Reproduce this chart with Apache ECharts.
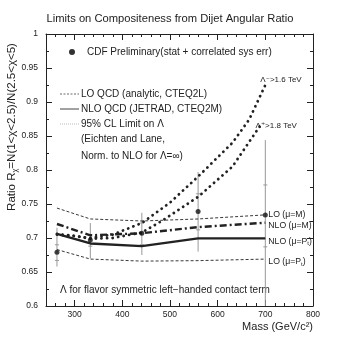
<!DOCTYPE html>
<html>
<head>
<meta charset="utf-8">
<script src="https://cdn.jsdelivr.net/npm/echarts@6/dist/echarts.min.js"></script>
<style>
  html, body { margin: 0; padding: 0; background: #fff; }
  #main { width: 340px; height: 340px; }
</style>
</head>
<body>
<div id="main"></div>
<script>
// mass points (GeV/c^2) where the data and QCD predictions sit
const masses = [263, 333, 441, 559, 700];

// CDF preliminary ratio with errors
const cdfRatio = [0.679, 0.697, 0.707, 0.739, 0.734];
const totLow   = [0.658, 0.670, 0.675, 0.680, 0.600];
const totHigh  = [0.715, 0.722, 0.737, 0.797, 0.844];
const statLow  = [0.667, 0.688, 0.690, 0.712, 0.687];
const statHigh = [0.690, 0.705, 0.722, 0.765, 0.778];

// QCD predictions
const loM   = [0.744, 0.728, 0.725, 0.728, 0.734];
const nloM  = [0.7206, 0.704, 0.707, 0.716, 0.7225];
const nloPt = [0.706, 0.692, 0.688, 0.6995, 0.6995];
const loPt  = [0.683, 0.669, 0.666, 0.6667, 0.669];

// 95% CL contact term curves
const lamMinusMass = [263, 300, 333, 380, 441, 500, 560, 631, 666, 700];
const lamMinus     = [0.705, 0.703, 0.700, 0.705, 0.722, 0.752, 0.791, 0.840, 0.874, 0.925];
const lamPlusMass  = [263, 300, 333, 380, 441, 485, 560, 631, 690];
const lamPlus      = [0.706, 0.703, 0.699, 0.700, 0.708, 0.726, 0.761, 0.805, 0.866];

// ticks
const xMajor = [300, 400, 500, 600, 700, 800];
const xMinor = [260, 280, 320, 340, 360, 380, 420, 440, 460, 480, 520, 540, 560, 580, 620, 640, 660, 680, 720, 740, 760, 780];

const FONT = 'Liberation Sans, DejaVu Sans, sans-serif';
const INK = '#222';

function pairs(xs, ys) { return xs.map((x, i) => [x, ys[i]]); }

function xAx(pos, values, len, labels) {
    return {
        type: 'value', position: pos, min: 240, max: 800,
        axisLine: { show: labels, onZero: false, lineStyle: { color: INK, width: 1 } },
        axisTick: { show: true, inside: true, length: len, customValues: values, lineStyle: { color: INK } },
        axisLabel: { show: labels && pos === 'bottom', customValues: values, color: INK, fontFamily: FONT, fontSize: 8.5, margin: 4 },
        splitLine: { show: false }
    };
}
function yAx(pos) {
    return {
        type: 'value', position: pos, min: 0.6, max: 1, interval: 0.05,
        axisLine: { show: true, onZero: false, lineStyle: { color: INK, width: 1 } },
        axisTick: { show: true, inside: true, length: 6, lineStyle: { color: INK } },
        minorTick: { show: true, splitNumber: 2, length: 3, lineStyle: { color: INK } },
        axisLabel: {
            show: pos === 'left', color: INK, fontFamily: FONT, fontSize: 8.5, margin: 8,
            formatter: v => (Math.abs(v - 1) < 1e-9 ? '1' : String(+v.toFixed(2)))
        },
        splitLine: { show: false }
    };
}

function curve(name, xs, ys, lineStyle, label) {
    const s = {
        name: name, type: 'line', data: pairs(xs, ys), symbol: 'none', silent: true,
        lineStyle: Object.assign({ color: INK }, lineStyle), z: 3
    };
    if (label) {
        s.endLabel = Object.assign({
            show: true, color: INK, fontFamily: FONT, fontSize: 8.7, distance: 3,
            rich: { sub: { fontSize: 6, verticalAlign: 'bottom', padding: [4, 0, 0, 0], color: INK, fontFamily: FONT } }
        }, label);
    }
    return s;
}

const errData = masses.map((m, i) => [m, totLow[i], totHigh[i], statLow[i], statHigh[i]]);

const LEG = '10px ' + FONT;

const option = {
    animation: false,
    backgroundColor: '#fff',
    title: {
        text: 'Limits on Compositeness from Dijet Angular Ratio',
        left: 165, top: 8, textAlign: 'center',
        textStyle: { fontFamily: FONT, fontSize: 11.2, fontWeight: 'normal', color: INK }
    },
    grid: { left: 46, right: 27, top: 34, bottom: 34 },
    xAxis: [
        xAx('bottom', xMajor, 6, true),
        xAx('bottom', xMinor, 3, false),
        xAx('top', xMajor, 6, true),
        xAx('top', xMinor, 3, false)
    ],
    yAxis: [yAx('left'), yAx('right')],
    series: [
        curve('LO M', masses, loM, { type: [3, 2], width: 0.9 },
            { formatter: 'LO (μ=M)', offset: [0, 0] }),
        curve('NLO M', masses, nloM, { type: [7, 3, 2, 3], width: 2.4 },
            { formatter: 'NLO (μ=M)', offset: [0, 3] }),
        curve('NLO Pt', masses, nloPt, { type: 'solid', width: 2.4 },
            { formatter: 'NLO (μ=P{sub|t})', offset: [0, 3] }),
        curve('LO Pt', masses, loPt, { type: [3, 2], width: 0.9 },
            { formatter: 'LO (μ=P{sub|t})', offset: [0, 3] }),
        curve('Lambda-', lamMinusMass, lamMinus, { type: [0.1, 5.5], width: 2.8, cap: 'round' },
            { formatter: 'Λ⁻>1.6 TeV', offset: [-8, -5], fontSize: 8 }),
        curve('Lambda+', lamPlusMass, lamPlus, { type: [0.1, 5.5], width: 2.8, cap: 'round' },
            { formatter: 'Λ⁺>1.8 TeV', offset: [-8, 1], fontSize: 8 }),
        {
            name: 'err', type: 'custom', silent: true, z: 2,
            data: errData,
            renderItem: function (params, api) {
                const x = api.value(0);
                const lo = api.coord([x, api.value(1)]);
                const hi = api.coord([x, api.value(2)]);
                const sl = api.coord([x, api.value(3)]);
                const sh = api.coord([x, api.value(4)]);
                const st = { stroke: '#999', lineWidth: 1 };
                return {
                    type: 'group',
                    children: [
                        { type: 'line', shape: { x1: lo[0], y1: lo[1], x2: hi[0], y2: hi[1] }, style: st },
                        { type: 'line', shape: { x1: sl[0] - 2, y1: sl[1], x2: sl[0] + 2, y2: sl[1] }, style: st },
                        { type: 'line', shape: { x1: sh[0] - 2, y1: sh[1], x2: sh[0] + 2, y2: sh[1] }, style: st }
                    ]
                };
            }
        },
        {
            name: 'CDF', type: 'scatter', data: pairs(masses, cdfRatio),
            symbol: 'circle', symbolSize: 5, itemStyle: { color: '#111' }, z: 5, silent: true
        }
    ],
    graphic: [
        { type: 'circle', shape: { cx: 72, cy: 52, r: 3 }, style: { fill: '#333' } },
        { type: 'text', x: 87, y: 52, style: { text: 'CDF Preliminary(stat + correlated sys err)', font: LEG, fill: INK, verticalAlign: 'middle' } },
        { type: 'line', shape: { x1: 60, y1: 94, x2: 79, y2: 94 }, style: { stroke: '#444', lineWidth: 0.8, lineDash: [2, 1.5] } },
        { type: 'text', x: 81, y: 94, style: { text: 'LO QCD (analytic, CTEQ2L)', font: LEG, fill: INK, verticalAlign: 'middle' } },
        { type: 'line', shape: { x1: 60, y1: 109, x2: 79, y2: 109 }, style: { stroke: '#444', lineWidth: 1 } },
        { type: 'text', x: 81, y: 109, style: { text: 'NLO QCD (JETRAD, CTEQ2M)', font: LEG, fill: INK, verticalAlign: 'middle' } },
        { type: 'line', shape: { x1: 60, y1: 124, x2: 79, y2: 124 }, style: { stroke: '#aaa', lineWidth: 0.8, lineDash: [1, 1] } },
        { type: 'text', x: 81, y: 124, style: { text: '95% CL Limit on Λ', font: LEG, fill: INK, verticalAlign: 'middle' } },
        { type: 'text', x: 81, y: 139, style: { text: '(Eichten and Lane,', font: LEG, fill: INK, verticalAlign: 'middle' } },
        { type: 'text', x: 81, y: 156, style: { text: 'Norm. to NLO for Λ=∞)', font: LEG, fill: INK, verticalAlign: 'middle' } },
        { type: 'text', x: 60, y: 290, style: { text: 'Λ for flavor symmetric left−handed contact term', font: LEG, fill: INK, verticalAlign: 'middle' } },
        { type: 'text', x: 313, y: 327, style: { text: 'Mass (GeV/c²)', font: '11px ' + FONT, fill: INK, align: 'right', verticalAlign: 'middle' } },
        {
            type: 'text', x: 12, y: 127, rotation: Math.PI / 2,
            style: {
                text: 'Ratio R{sub|χ}=N(1<χ<2.5)/N(2.5<χ<5)', font: '11.5px ' + FONT, fill: INK,
                align: 'center', verticalAlign: 'middle',
                rich: { sub: { fontSize: 7.5, fontFamily: FONT, fill: INK, padding: [6, 0, 0, 0] } }
            }
        }
    ]
};

const chart = echarts.init(document.getElementById('main'), null, { renderer: 'canvas' });
chart.setOption(option);
</script>
</body>
</html>
